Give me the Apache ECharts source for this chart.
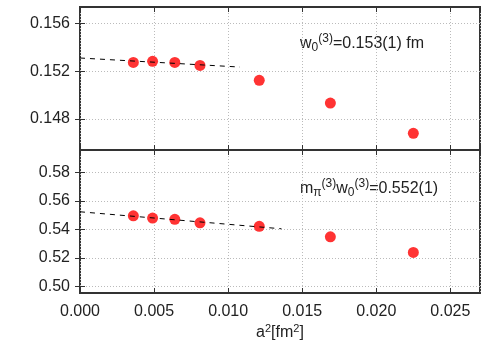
<!DOCTYPE html>
<html>
<head>
<meta charset="UTF-8">
<script src="https://cdn.jsdelivr.net/npm/echarts@6/dist/echarts.min.js"></script>
<style>body{margin:0}#c{width:500px;height:350px}</style>
</head>
<body>
<div id="c"></div>
<script>
// lattice spacing squared a^2 [fm^2]
var a2 = [0.0036, 0.0049, 0.0064, 0.0081, 0.0121, 0.0169, 0.0225];
// w0 in fm (top panel)
var w0 = [0.15275, 0.15284, 0.15275, 0.1525, 0.15125, 0.14934, 0.1468];
// m_pi * w0 (bottom panel)
var mpiw0 = [0.5495, 0.5479, 0.5470, 0.5446, 0.5421, 0.5348, 0.5239];
// continuum fits
var fitTopX = [0, 0.0108], fitTopY = [0.15312, 0.15236];
var fitBotX = [0, 0.0136], fitBotY = [0.5523, 0.5404];
var topTicks = [0.148, 0.152, 0.156];
var botTicks = [0.50, 0.52, 0.54, 0.56, 0.58];

function pairs(xs, ys) { return xs.map(function (x, i) { return [x, ys[i]]; }); }

var txt = '#222';
var font = "'Liberation Sans', Arial, sans-serif";
var split = {show: true, lineStyle: {color: '#bbb', type: [1, 2], width: 1}};
var tick = {show: true, inside: true, length: 5, lineStyle: {color: '#333'}};

function xAx(grid, pos, labels) {
    return {
        type: 'value', gridIndex: grid, position: pos, min: 0, max: 0.027, interval: 0.005,
        axisLine: {show: false}, axisTick: tick, splitLine: split,
        axisLabel: {show: labels, color: txt, fontSize: 16, fontFamily: font, margin: 11,
            formatter: function (v) { return v.toFixed(3); }, showMaxLabel: false},
        name: labels ? '{n|a}{s|2}{n|[fm}{s|2}{n|]}' : '', nameLocation: 'middle', nameGap: 30,
        nameTextStyle: {rich: {n: {fontSize: 16, color: txt, fontFamily: font},
            s: {fontSize: 11, color: txt, fontFamily: font, padding: [0, 0, 9, 0]}}}
    };
}
function yAx(grid, pos, min, max, ticks, dec, labels) {
    return {
        type: 'value', gridIndex: grid, position: pos, min: min, max: max,
        axisLine: {show: false},
        axisTick: Object.assign({customValues: ticks}, tick),
        splitLine: split,
        axisLabel: {show: labels, customValues: ticks, color: txt, fontSize: 16, fontFamily: font, margin: 10,
            formatter: function (v) { return v.toFixed(dec); }}
    };
}

var rich = {n: {fontSize: 16, fill: txt, fontFamily: font},
    b: {fontSize: 12, fill: txt, fontFamily: font, padding: [8, 0, 0, 0]},
    p: {fontSize: 12, fill: txt, fontFamily: font, padding: [0, 0, 10, 0]}};

var chart = echarts.init(document.getElementById('c'));
chart.setOption({
    animation: false,
    grid: [
        {left: 80, right: 20, top: 7, height: 143, show: true, borderColor: '#333', borderWidth: 2},
        {left: 80, right: 20, top: 150, bottom: 57, show: true, borderColor: '#333', borderWidth: 2}
    ],
    xAxis: [xAx(0, 'bottom', false), xAx(0, 'top', false), xAx(1, 'bottom', true), xAx(1, 'top', false)],
    yAxis: [
        yAx(0, 'left', 0.1454, 0.1574, topTicks, 3, true),
        yAx(0, 'right', 0.1454, 0.1574, topTicks, 3, false),
        yAx(1, 'left', 0.4955, 0.5955, botTicks, 2, true),
        yAx(1, 'right', 0.4955, 0.5955, botTicks, 2, false)
    ],
    graphic: [
        {type: 'text', left: 300, top: 33, style: {text: '{n|w}{b|0}{p|(3)}{n|=0.153(1) fm}', rich: rich}},
        {type: 'text', left: 300, top: 178, style: {text: '{n|m}{b|π}{p|(3)}{n|w}{b|0}{p|(3)}{n|=0.552(1)}', rich: rich}}
    ],
    series: [
        {type: 'line', xAxisIndex: 0, yAxisIndex: 0, data: pairs(fitTopX, fitTopY), symbol: 'none',
            lineStyle: {color: '#000', width: 1, type: [5, 5]}},
        {type: 'scatter', xAxisIndex: 0, yAxisIndex: 0, data: pairs(a2, w0), symbolSize: 11,
            itemStyle: {color: '#ff3333', opacity: 1}},
        {type: 'line', xAxisIndex: 2, yAxisIndex: 2, data: pairs(fitBotX, fitBotY), symbol: 'none',
            lineStyle: {color: '#000', width: 1, type: [5, 5]}},
        {type: 'scatter', xAxisIndex: 2, yAxisIndex: 2, data: pairs(a2, mpiw0), symbolSize: 11,
            itemStyle: {color: '#ff3333', opacity: 1}}
    ]
});
</script>
</body>
</html>
